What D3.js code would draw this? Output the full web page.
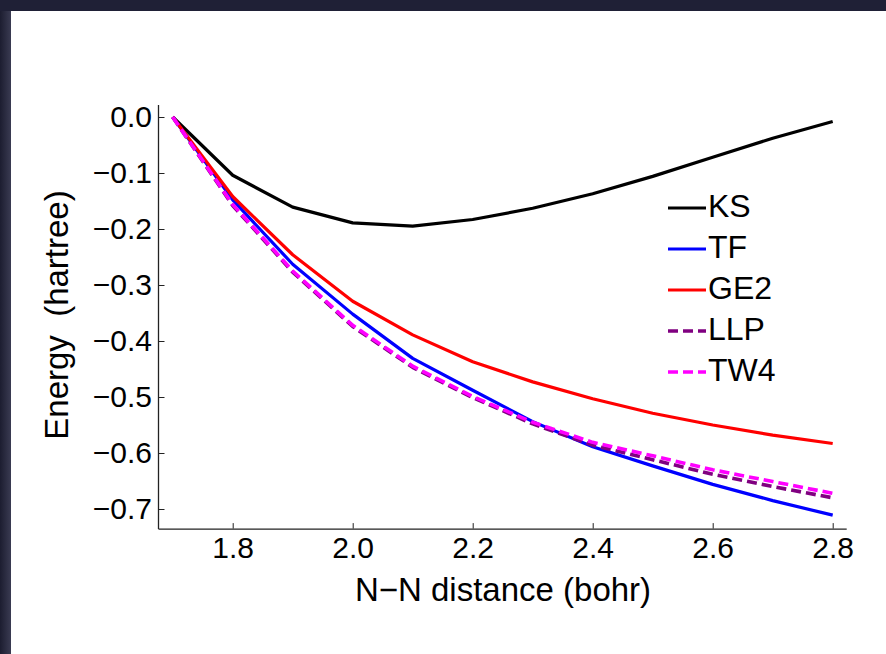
<!DOCTYPE html>
<html>
<head>
<meta charset="utf-8">
<script src="https://cdn.jsdelivr.net/npm/d3@7"></script>
<style>
  body { margin: 0; background: #21223a; }
  svg { display: block; }
</style>
</head>
<body>
<div id="chart"></div>
<script>
// N-N distance (bohr) and energy curves (hartree)
var distance = [1.7, 1.8, 1.9, 2.0, 2.1, 2.2, 2.3, 2.4, 2.5, 2.6, 2.7, 2.8];
var ks  = [0, -0.104, -0.161, -0.189, -0.195, -0.183, -0.163, -0.137, -0.106, -0.072, -0.038, -0.008];
var tf  = [0, -0.148, -0.263, -0.352, -0.431, -0.488, -0.544, -0.589, -0.623, -0.656, -0.685, -0.711];
var ge2 = [0, -0.142, -0.246, -0.329, -0.389, -0.437, -0.473, -0.503, -0.529, -0.550, -0.568, -0.583];
var llp = [0, -0.158, -0.277, -0.374, -0.447, -0.501, -0.548, -0.586, -0.612, -0.638, -0.660, -0.680];
var tw4 = [0, -0.156, -0.275, -0.372, -0.445, -0.499, -0.545, -0.581, -0.605, -0.630, -0.651, -0.672];

var seriesNames  = ["KS", "TF", "GE2", "LLP", "TW4"];
var seriesValues = [ks, tf, ge2, llp, tw4];
var seriesColors = ["#000000", "#0000ff", "#ff0000", "#800080", "#ff00ff"];
var seriesDash   = [null, null, null, "10,5", "10,5"];

var xMajor = [1.8, 2.0, 2.2, 2.4, 2.6, 2.8];
var yMajor = [0, -0.1, -0.2, -0.3, -0.4, -0.5, -0.6, -0.7];

var w = 886, h = 654;
var font = "'Liberation Sans', Arial, Helvetica, sans-serif";

var svg = d3.select("#chart").append("svg")
  .attr("width", w)
  .attr("height", h);

// dark frame + white panel
var defs = svg.append("defs");
var grad = defs.append("linearGradient").attr("id", "edge");
grad.append("stop").attr("offset", "0%").attr("stop-color", "#1c1d30");
grad.append("stop").attr("offset", "100%").attr("stop-color", "#3a3b52");
svg.append("rect").attr("width", w).attr("height", h).attr("fill", "#1f2036");
svg.append("rect").attr("x", 0).attr("y", 11).attr("width", 11).attr("height", h - 11).attr("fill", "url(#edge)");
svg.append("rect").attr("x", 11).attr("y", 11).attr("width", w - 11).attr("height", h - 11).attr("fill", "#ffffff");

var x = d3.scaleLinear().domain([1.6755, 2.8225]).range([158, 846.2]);
var y = d3.scaleLinear().domain([-0.735, 0.0225]).range([528.6, 104.4]);

// minor ticks
var xMinor = d3.range(1.7, 2.81, 0.05).filter(function(d) {
  return xMajor.every(function(m) { return Math.abs(m - d) > 1e-6; });
});
var yMinor = d3.range(0.02, -0.73, -0.02).filter(function(d) {
  return yMajor.every(function(m) { return Math.abs(m - d) > 1e-6; });
});

var fmt = d3.format(".1f");

var gx = svg.append("g").attr("transform", "translate(0," + y.range()[0] + ")");
gx.call(d3.axisBottom(x).tickValues(xMinor).tickSizeInner(-3).tickSizeOuter(0).tickFormat(""));
gx.call(d3.axisBottom(x).tickValues(xMajor).tickSizeInner(-5.5).tickSizeOuter(0).tickPadding(8).tickFormat(fmt));

var gy = svg.append("g").attr("transform", "translate(" + x.range()[0] + ",0)");
gy.call(d3.axisLeft(y).tickValues(yMinor).tickSizeInner(-3.5).tickSizeOuter(0).tickFormat(""));
gy.call(d3.axisLeft(y).tickValues(yMajor).tickSizeInner(-6.5).tickSizeOuter(0).tickPadding(6).tickFormat(fmt));

svg.selectAll(".domain").attr("stroke", "#222").attr("stroke-width", 1.3);
svg.selectAll(".tick line").attr("stroke", "#222").attr("stroke-width", 1);
svg.selectAll(".tick text")
  .attr("font-family", font)
  .attr("font-size", 30)
  .attr("fill", "#000");

// curves
var line = d3.line()
  .x(function(d, i) { return x(distance[i]); })
  .y(function(d) { return y(d); });

seriesValues.forEach(function(vals, k) {
  svg.append("path")
    .attr("d", line(vals))
    .attr("fill", "none")
    .attr("stroke", seriesColors[k])
    .attr("stroke-width", seriesDash[k] ? 3.6 : 3.2)
    .attr("stroke-linejoin", "round")
    .attr("stroke-dasharray", seriesDash[k]);
});

// legend
var legend = svg.append("g").attr("transform", "translate(668,208)");
seriesNames.forEach(function(name, k) {
  var row = legend.append("g").attr("transform", "translate(0," + (k * 41) + ")");
  row.append("line")
    .attr("x1", 0).attr("x2", 38)
    .attr("stroke", seriesColors[k])
    .attr("stroke-width", seriesDash[k] ? 3.6 : 3.2)
    .attr("stroke-dasharray", seriesDash[k]);
  row.append("text")
    .attr("x", 40).attr("y", 9)
    .attr("font-family", font)
    .attr("font-size", 32)
    .text(name);
});

// axis titles
svg.append("text")
  .attr("x", 503).attr("y", 601)
  .attr("text-anchor", "middle")
  .attr("font-family", font)
  .attr("font-size", 33)
  .text("N\u2212N distance (bohr)");

svg.append("text")
  .attr("transform", "translate(68,315) rotate(-90)")
  .attr("text-anchor", "middle")
  .attr("font-family", font)
  .attr("font-size", 33)
  .attr("xml:space", "preserve")
  .style("white-space", "pre")
  .text("Energy  (hartree)");
</script>
</body>
</html>
